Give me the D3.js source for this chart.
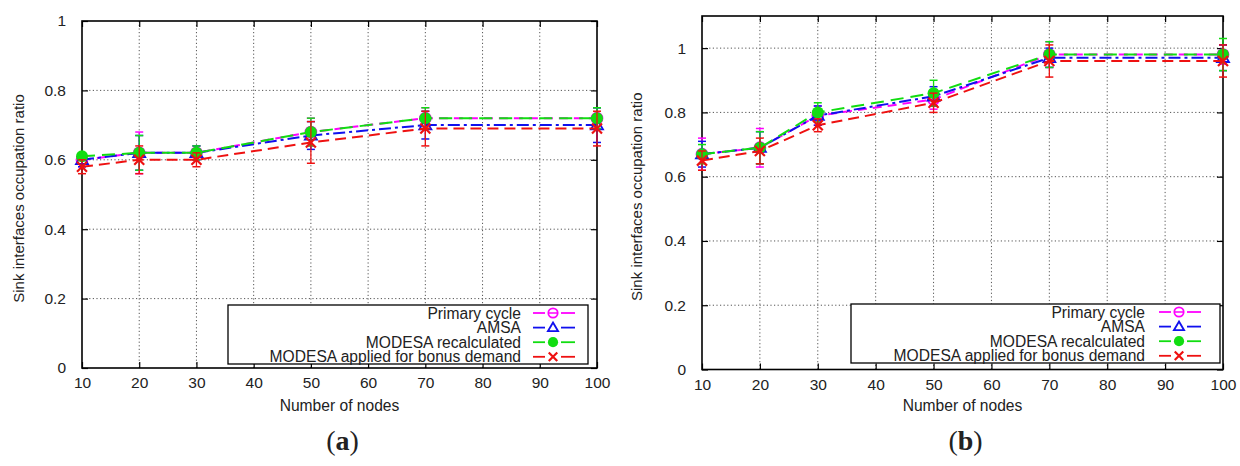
<!DOCTYPE html>
<html>
<head>
<meta charset="utf-8">
<script src="https://cdn.jsdelivr.net/npm/d3@7"></script>
<style>
  html, body { margin: 0; padding: 0; background: #fff; }
  svg text { font-family: "Liberation Sans", Arial, Helvetica, sans-serif; fill: #222; }
</style>
</head>
<body>
<svg id="chart" width="1240" height="466"></svg>
<script>
// ---------- data ----------
const nodes = [10, 20, 30, 50, 70, 100];
const xTicks = [10, 20, 30, 40, 50, 60, 70, 80, 90, 100];
const yTicks = [0, 0.2, 0.4, 0.6, 0.8, 1];
const seriesNames = ["Primary cycle", "AMSA", "MODESA recalculated", "MODESA applied for bonus demand"];

// panel (a)
const primaryA = [0.60, 0.62, 0.62, 0.68, 0.72, 0.72];
const amsaA    = [0.60, 0.62, 0.62, 0.67, 0.70, 0.70];
const recalcA  = [0.61, 0.62, 0.62, 0.68, 0.72, 0.72];
const bonusA   = [0.58, 0.60, 0.60, 0.65, 0.69, 0.69];
const primaryErrA = [0.02, 0.06, 0.02, 0.04, 0.03, 0.03];
const amsaErrA    = [0.02, 0.05, 0.02, 0.04, 0.04, 0.05];
const recalcErrA  = [0.01, 0.05, 0.02, 0.04, 0.03, 0.03];
const bonusErrA   = [0.02, 0.04, 0.02, 0.06, 0.05, 0.05];

// panel (b)
const primaryB = [0.67, 0.69, 0.79, 0.84, 0.98, 0.98];
const amsaB    = [0.67, 0.69, 0.79, 0.85, 0.97, 0.97];
const recalcB  = [0.67, 0.69, 0.80, 0.86, 0.98, 0.98];
const bonusB   = [0.65, 0.68, 0.76, 0.83, 0.96, 0.96];
const primaryErrB = [0.05, 0.06, 0.03, 0.03, 0.04, 0.03];
const amsaErrB    = [0.04, 0.05, 0.03, 0.03, 0.03, 0.04];
const recalcErrB  = [0.03, 0.05, 0.03, 0.04, 0.04, 0.05];
const bonusErrB   = [0.03, 0.04, 0.02, 0.03, 0.05, 0.05];

// ---------- styles ----------
const styles = [
  { color: "#ff00ff", dash: "9,6",        marker: "ocircle" },
  { color: "#1010ee", dash: "12,4,3,4",   marker: "triangle" },
  { color: "#11dd11", dash: "13,7",       marker: "fcircle" },
  { color: "#ee1111", dash: "11,6",       marker: "cross" }
];

const svg = d3.select("#chart");

function drawMarker(g, type, cx, cy, color, sc) {
  sc = sc || 1;
  if (type === "ocircle") {
    g.append("circle").attr("cx", cx).attr("cy", cy).attr("r", 5.5 * sc)
      .attr("fill", "none").attr("stroke", color).attr("stroke-width", 1.8);
    g.append("line").attr("x1", cx - 5 * sc).attr("x2", cx + 5 * sc).attr("y1", cy).attr("y2", cy)
      .attr("stroke", color).attr("stroke-width", 1.5);
  } else if (type === "triangle") {
    const s = 6 * sc;
    g.append("path").attr("d", `M${cx},${cy - s} L${cx + s},${cy + s * 0.7} L${cx - s},${cy + s * 0.7} Z`)
      .attr("fill", "none").attr("stroke", color).attr("stroke-width", 1.8);
  } else if (type === "fcircle") {
    g.append("circle").attr("cx", cx).attr("cy", cy).attr("r", 6 * sc)
      .attr("fill", color).attr("stroke", "none");
  } else if (type === "cross") {
    const s = 5 * sc;
    g.append("path").attr("d", `M${cx - s},${cy - s} L${cx + s},${cy + s} M${cx - s},${cy + s} L${cx + s},${cy - s}`)
      .attr("fill", "none").attr("stroke", color).attr("stroke-width", 2.2);
  }
}

function panel(cfg) {
  const x = d3.scaleLinear().domain([10, 100]).range([cfg.x0, cfg.x1]);
  const y = d3.scaleLinear().domain([0, cfg.yMax]).range([cfg.yBottom, cfg.yTop]);
  const g = svg.append("g");

  // grid
  const grid = g.append("g");
  xTicks.slice(1, -1).forEach(t => {
    grid.append("line").attr("x1", x(t)).attr("x2", x(t)).attr("y1", cfg.yBottom).attr("y2", cfg.yTop)
      .attr("stroke", "#555").attr("stroke-width", 1).attr("stroke-dasharray", "1.2,2.4");
  });
  yTicks.filter(t => t > 0 && t < cfg.yMax).forEach(t => {
    grid.append("line").attr("x1", cfg.x0).attr("x2", cfg.x1).attr("y1", y(t)).attr("y2", y(t))
      .attr("stroke", "#555").attr("stroke-width", 1).attr("stroke-dasharray", "1.2,2.4");
  });

  // axes via d3 axis (inner ticks)
  const fmt = d => d === 0 ? "0" : (d === 1 ? "1" : d3.format(".1f")(d));
  const xAxis = g.append("g").attr("transform", `translate(0,${cfg.yBottom})`)
    .call(d3.axisBottom(x).tickValues(xTicks).tickSizeInner(-6).tickSizeOuter(0).tickPadding(11));
  const xAxisTop = g.append("g").attr("transform", `translate(0,${cfg.yTop})`)
    .call(d3.axisTop(x).tickValues(xTicks).tickSizeInner(-6).tickSizeOuter(0).tickFormat(""));
  const yAxis = g.append("g").attr("transform", `translate(${cfg.x0},0)`)
    .call(d3.axisLeft(y).tickValues(yTicks).tickFormat(fmt).tickSizeInner(-6).tickSizeOuter(0).tickPadding(16));
  const yAxisR = g.append("g").attr("transform", `translate(${cfg.x1},0)`)
    .call(d3.axisRight(y).tickValues(yTicks).tickSizeInner(-6).tickSizeOuter(0).tickFormat(""));
  [xAxis, xAxisTop, yAxis, yAxisR].forEach(a => {
    a.select(".domain").remove();
    a.selectAll(".tick line").attr("stroke", "#000").attr("stroke-width", 1.2);
    a.selectAll("text").attr("font-size", 15.5).attr("fill", "#222")
      .attr("font-family", "'Liberation Sans', Arial, sans-serif");
  });
  xAxis.selectAll("text").attr("dy", "0.6em");

  // frame
  g.append("rect").attr("x", cfg.x0).attr("y", cfg.yTop)
    .attr("width", cfg.x1 - cfg.x0).attr("height", cfg.yBottom - cfg.yTop)
    .attr("fill", "none").attr("stroke", "#000").attr("stroke-width", 1.6);

  // legend box
  const lg = g.append("g");
  lg.append("rect").attr("x", cfg.legX0).attr("y", cfg.legY0)
    .attr("width", cfg.legX1 - cfg.legX0).attr("height", cfg.legY1 - cfg.legY0)
    .attr("fill", "#fff").attr("stroke", "#000").attr("stroke-width", 1.3);

  // series
  const line = d3.line().x(d => x(d[0])).y(d => y(d[1]));
  cfg.series.forEach((vals, i) => {
    const st = styles[i];
    const sg = g.append("g");
    const pts = nodes.map((n, k) => [n, vals[k]]);
    sg.append("path").datum(pts).attr("d", line).attr("fill", "none")
      .attr("stroke", st.color).attr("stroke-width", 2).attr("stroke-dasharray", st.dash);
    pts.forEach((p, k) => {
      const e = cfg.errors[i][k];
      const cx = x(p[0]);
      sg.append("line").attr("x1", cx).attr("x2", cx).attr("y1", y(p[1] - e)).attr("y2", y(p[1] + e))
        .attr("stroke", st.color).attr("stroke-width", 1.3);
      [p[1] - e, p[1] + e].forEach(v => {
        sg.append("line").attr("x1", cx - 4).attr("x2", cx + 4).attr("y1", y(v)).attr("y2", y(v))
          .attr("stroke", st.color).attr("stroke-width", 1.5);
      });
    });
    pts.forEach(p => drawMarker(sg, st.marker, x(p[0]), y(p[1]), st.color));
  });

  // legend entries
  seriesNames.forEach((name, i) => {
    const st = styles[i];
    const ry = cfg.legY0 + 8 + i * 14.6;
    lg.append("text").attr("x", cfg.legTextX).attr("y", ry).attr("dy", "0.36em")
      .attr("text-anchor", "end").attr("font-size", 15.6).text(name);
    const mx = cfg.legSample + 20;
    lg.append("line").attr("x1", cfg.legSample).attr("x2", mx - 8).attr("y1", ry).attr("y2", ry)
      .attr("stroke", st.color).attr("stroke-width", 1.8);
    lg.append("line").attr("x1", mx + 8).attr("x2", cfg.legSample + 42).attr("y1", ry).attr("y2", ry)
      .attr("stroke", st.color).attr("stroke-width", 1.8);
    const mg = lg.append("g");
    drawMarker(mg, st.marker, mx, ry, st.color, 0.85);
  });
  lg.raise();

  // axis titles
  g.append("text").attr("transform", `translate(${cfg.yLabelX},${(cfg.yTop + cfg.yBottom) / 2 + 4}) rotate(-90)`)
    .attr("text-anchor", "middle").attr("dy", "0.35em").attr("font-size", 15)
    .text("Sink interfaces occupation ratio");
  g.append("text").attr("x", (cfg.x0 + cfg.x1) / 2).attr("y", 411)
    .attr("text-anchor", "middle").attr("font-size", 15.6).text("Number of nodes");

  // panel label
  const pl = g.append("text").attr("x", (cfg.x0 + cfg.x1) / 2 + 3).attr("y", 450)
    .attr("text-anchor", "middle").attr("font-size", 28)
    .style("font-family", "'Liberation Serif', 'DejaVu Serif', serif").attr("fill", "#000");
  pl.append("tspan").text("(");
  pl.append("tspan").attr("font-weight", "bold").text(cfg.label);
  pl.append("tspan").text(")");
}

panel({
  x0: 82, x1: 597, yTop: 21, yBottom: 368, yMax: 1,
  series: [primaryA, amsaA, recalcA, bonusA],
  errors: [primaryErrA, amsaErrA, recalcErrA, bonusErrA],
  legX0: 228, legX1: 588, legY0: 305, legY1: 364, legTextX: 521, legSample: 533,
  yLabelX: 19, label: "a"
});

panel({
  x0: 702, x1: 1223, yTop: 16, yBottom: 369.5, yMax: 1.1,
  series: [primaryB, amsaB, recalcB, bonusB],
  errors: [primaryErrB, amsaErrB, recalcErrB, bonusErrB],
  legX0: 851, legX1: 1220, legY0: 304, legY1: 363, legTextX: 1145, legSample: 1159,
  yLabelX: 637, label: "b"
});
</script>
</body>
</html>
